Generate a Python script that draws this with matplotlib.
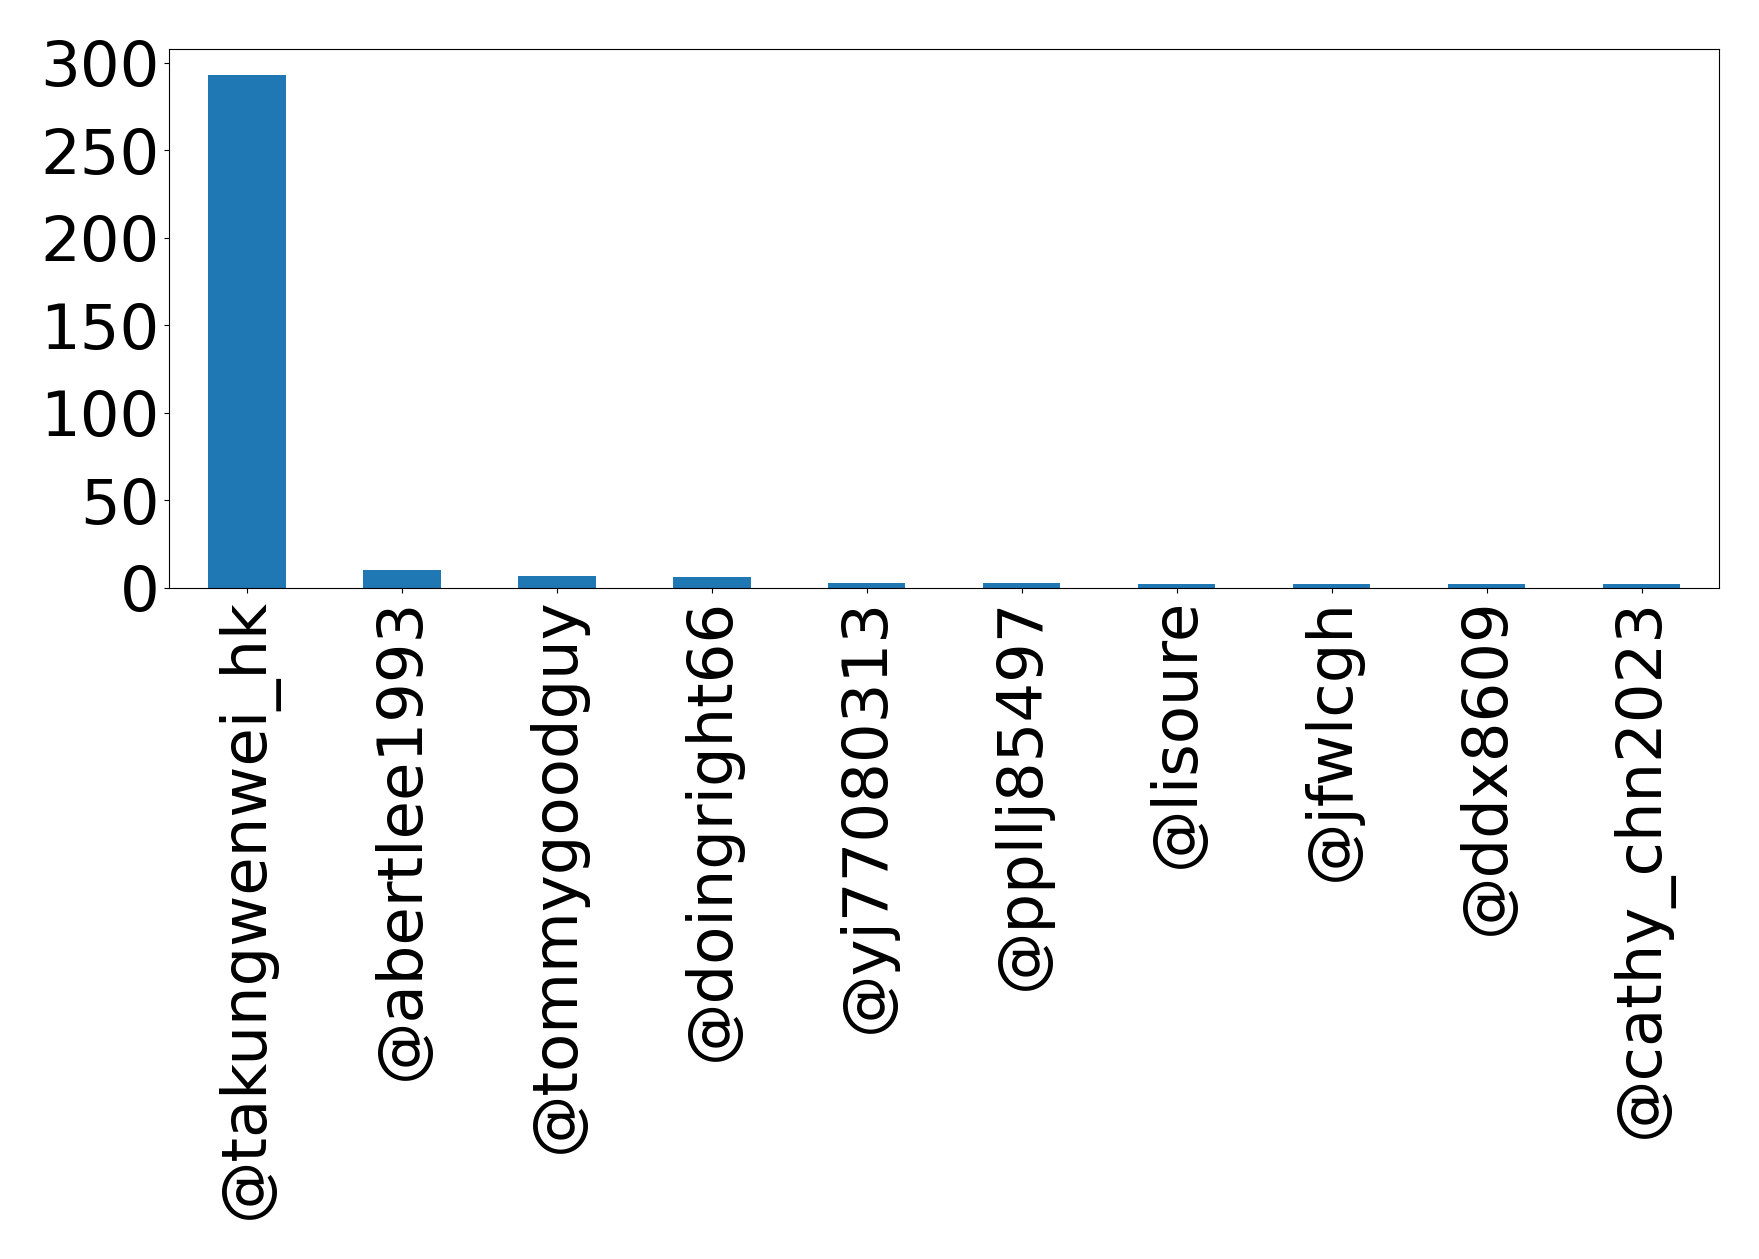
import matplotlib
matplotlib.use("Agg")
import matplotlib.pyplot as plt

users = ["@takungwenwei_hk", "@abertlee1993", "@tommygoodguy", "@doingright66",
         "@yj77080313", "@ppllj85497", "@lisoure", "@jfwlcgh", "@ddx8609",
         "@cathy_chn2023"]
counts = [293, 10, 7, 6, 3, 3, 2, 2, 2, 2]

fig = plt.figure(figsize=(17.59, 12.59), dpi=100)
ax = fig.add_axes([0.0963, 0.533, 0.8810, 0.428])
x = list(range(len(users)))
ax.bar(x, counts, width=0.5, color="#1f77b4")
ax.set_xlim(-0.5, len(users) - 0.5)
ax.set_ylim(0, max(counts) * 1.05)
ax.set_xticks(x)
ax.set_xticklabels(users, rotation=90, fontsize=45)
ax.set_yticks([0, 50, 100, 150, 200, 250, 300])
ax.tick_params(axis="y", labelsize=45)
fig.savefig("out.png", dpi=100)
